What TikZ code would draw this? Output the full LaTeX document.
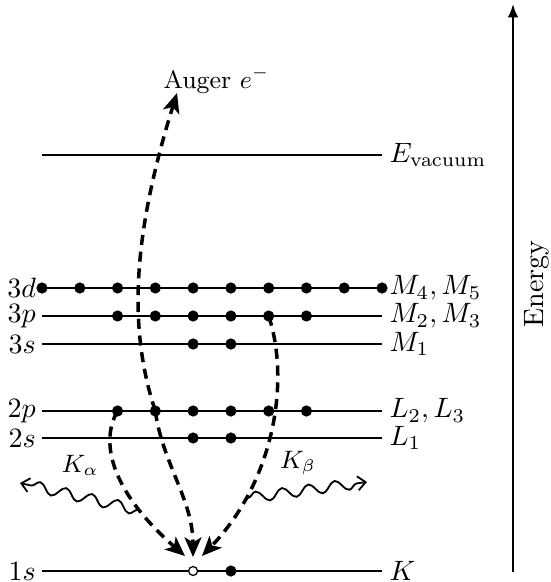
\documentclass[tikz,border=0pt]{standalone}
\usetikzlibrary{arrows.meta,decorations.pathmorphing}
\begin{document}
\begin{tikzpicture}[x=0.3571pt,y=-0.3571pt,
  level/.style={line width=0.5pt},
  dot/.style={circle,fill=black,inner sep=0pt,minimum size=4pt},
  hole/.style={circle,draw=black,fill=white,inner sep=0pt,minimum size=3.2pt,line width=0.45pt},
  trans/.style={line width=1.25pt,dash pattern=on 3.6pt off 2.4pt,-{Stealth[length=7pt,width=6pt,inset=1.8pt]}},
  photon/.style={line width=0.65pt,decorate,decoration={snake,amplitude=1.9pt,segment length=9.5pt,post length=3pt},-{Straight Barb[length=2.8pt,width=5pt]}},
  llab/.style={anchor=east,inner sep=2pt},
  rlab/.style={anchor=west,inner sep=2.5pt}]
\useasboundingbox (0,0) rectangle (551,582);
% levels
\foreach \n/\y in {vac/155,d/288,p/316,sc/344,pp/411,ss/438,k/571}{
  \coordinate (\n L) at (42,\y);
  \coordinate (\n R) at (382,\y);
}
\draw[level] (vacL) -- (vacR);
\foreach \n in {d,p,sc,pp,ss,k} \draw[level] (\n L) -- (\n R);
% left labels
\node[llab] at (dL) {$3d$};
\node[llab] at (pL) {$3p$};
\node[llab] at (scL) {$3s$};
\node[llab] at (ppL) {$2p$};
\node[llab] at (ssL) {$2s$};
\node[llab] at (kL) {$1s$};
% right labels
\node[rlab] at (vacR) {$E_{\mathrm{vacuum}}$};
\node[rlab] at (dR) {$M_4, M_5$};
\node[rlab] at (pR) {$M_2, M_3$};
\node[rlab] at (scR) {$M_1$};
\node[rlab] at (ppR) {$L_2, L_3$};
\node[rlab] at (ssR) {$L_1$};
\node[rlab] at (kR) {$K$};
% Auger label and arrow end points
\node[anchor=base west,inner sep=0pt,font=\small] (auger) at (163,88) {Auger $e^-$};
\coordinate (augtip) at (177,93);
\coordinate (ta) at (185,556);
\coordinate (tm) at (193,557);
\coordinate (tb) at (202,556);
% electrons
\foreach \i in {0,...,9} \node[dot] (d\i) at (42+\i*37.78,288) {};
\foreach \i in {2,...,7} \node[dot] (p\i) at (42+\i*37.78,316) {};
\foreach \i in {4,5} \node[dot] (sc\i) at (42+\i*37.78,344) {};
\foreach \i in {2,...,7} \node[dot] (pp\i) at (42+\i*37.78,411) {};
\foreach \i in {4,5} \node[dot] (ss\i) at (42+\i*37.78,438) {};
\node[hole] (hole) at (193.1,571) {};
\node[dot] (k5) at (230.9,571) {};
% transitions
\draw[trans] (pp3.center) .. controls (125,320) and (137,222) .. (augtip);
\draw[trans] (pp3.center) .. controls (162,462) and (193,500) .. (tm);
\draw[trans] (pp2.center) .. controls (98,445) and (115,495) .. (ta);
\draw[trans] (p6.center) .. controls (290,380) and (275,480) .. (tb);
% photons
\coordinate (pa0) at (138,510);
\coordinate (pa1) at (20,483);
\coordinate (pb0) at (248,498);
\coordinate (pb1) at (367,482);
\draw[photon] (pa0) -- (pa1);
\draw[photon] (pb0) -- (pb1);
\node[font=\small] (ka) at (80,465) {$K_\alpha$};
\node[font=\small] (kb) at (298,463) {$K_\beta$};
% energy axis
\coordinate (e0) at (513,572);
\coordinate (e1) at (513,4);
\draw[line width=0.75pt,-{Latex[length=4.8pt,width=3.8pt]}] (e0) -- (e1);
\node[rotate=90] (energy) at (537,284) {Energy};
\end{tikzpicture}
\end{document}
